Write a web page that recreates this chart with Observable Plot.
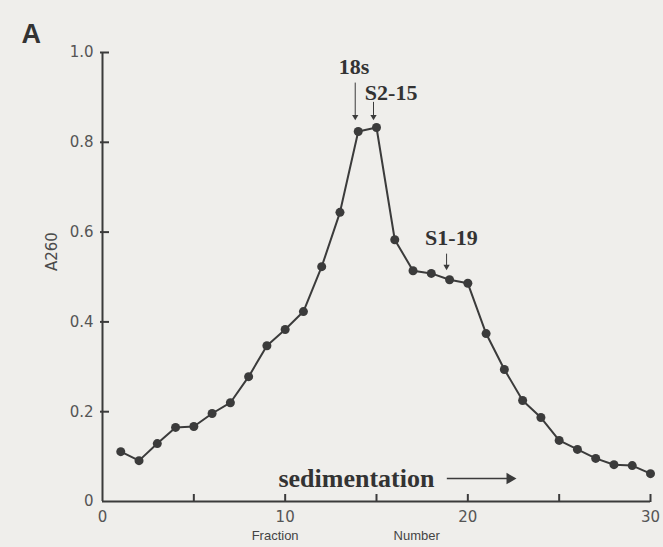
<!DOCTYPE html>
<html><head><meta charset="utf-8">
<script src="https://cdn.jsdelivr.net/npm/d3@7"></script>
<script src="https://cdn.jsdelivr.net/npm/@observablehq/plot@0.6"></script>
<style>
html,body{margin:0;padding:0;background:#efeeeb;}
#chart{width:663px;height:547px;}
</style></head><body><div id="chart"></div>
<script>
// ---- data ----
const fraction = [1,2,3,4,5,6,7,8,9,10,11,12,13,14,15,16,17,18,19,20,21,22,23,24,25,26,27,28,29,30];
const a260 = [0.111,0.091,0.129,0.165,0.167,0.196,0.220,0.278,0.347,0.383,0.423,0.523,0.644,0.824,0.833,0.583,0.514,0.508,0.494,0.486,0.374,0.294,0.225,0.187,0.136,0.116,0.096,0.082,0.080,0.062];
const xTickLabels = [0,10,20,30];
const xTickMarks = [5,10,15,20,25,30];
const yTicks = [0,0.2,0.4,0.6,0.8,1.0];
const yTickLabels = ["0","0.2","0.4","0.6","0.8","1.0"];
// annotations
const peakLabels = ["18s","S2-15","S1-19"];
const peakLabelX = [13.77,15.8,19.1];
const peakLabelY = [0.967,0.911,0.586];
const peakArrowX = [14,15,19];
const peakArrowTop = [0.933,0.89,0.552];
const peakArrowBottom = [0.857,0.857,0.523];
const sedText = "sedimentation";
const sedTextX = 13.9, sedY = 0.051;
const sedArrowX1 = 18.85, sedArrowX2 = 22.3;
const axisWords = ["Fraction","Number"];
const axisWordsX = [9.45,17.2];

const points = fraction.map((f,i)=>({f, a: a260[i]}));
const peaks = peakLabels.map((t,i)=>({t, lx: peakLabelX[i], ly: peakLabelY[i], ax: peakArrowX[i], y1: peakArrowTop[i], y2: peakArrowBottom[i]}));
const ink = "#3b3b3b";
const W = 663, H = 547, ML = 102, MR = 13, MT = 52, MB = 46, TICK = 7;
const tickFont = "'DejaVu Sans', sans-serif";

const chart = Plot.plot({
  width: W, height: H,
  marginLeft: ML, marginRight: MR, marginTop: MT, marginBottom: MB,
  style: {background: "transparent", color: "#444", fontFamily: tickFont, fontSize: "15px"},
  x: {domain: [0,30]},
  y: {domain: [0,1]},
  marks: [
    Plot.ruleY([0], {stroke: ink, strokeWidth: 2}),
    Plot.ruleX([0], {stroke: ink, strokeWidth: 2}),
    Plot.axisY({ticks: yTicks, tickSize: 0, tickPadding: 9, tickFormat: d=>yTickLabels[yTicks.indexOf(d)], fill: "#555", label: null}),
    Plot.tickY(yTicks.slice(1), {y: d=>d, insetRight: (W-ML-MR) - TICK, insetLeft: -2, stroke: ink, strokeWidth: 2}),
    Plot.axisX({ticks: xTickLabels, tickSize: 0, tickPadding: 10, fill: "#555", label: null}),
    Plot.tickX(xTickMarks, {x: d=>d, insetTop: (H-MT-MB) - TICK, insetBottom: -1, stroke: ink, strokeWidth: 2}),
    Plot.line(points, {x: "f", y: "a", stroke: ink, strokeWidth: 2}),
    Plot.dot(points, {x: "f", y: "a", r: 4.5, fill: ink, stroke: null}),
    // peak annotations
    Plot.text(peaks, {x: "lx", y: "ly", text: "t", fontFamily: "'Liberation Serif', serif", fontWeight: "bold", fontSize: 22, fill: "#333"}),
    Plot.link(peaks, {x1: "ax", x2: "ax", y1: "y1", y2: "y2", dx: -3, stroke: ink, strokeWidth: 1}),
    Plot.dot(peaks, {x: "ax", y: "y2", dx: -3, symbol: "triangle2", rotate: 180, r: 3, fill: ink, stroke: null}),
    // sedimentation arrow
    Plot.text([sedText], {x: sedTextX, y: sedY, text: d=>d, fontFamily: "'Liberation Serif', serif", fontWeight: "bold", fontSize: 26, fill: "#333"}),
    Plot.link([0], {x1: sedArrowX1, x2: sedArrowX2, y1: sedY, y2: sedY, stroke: ink, strokeWidth: 1.5}),
    Plot.dot([0], {x: sedArrowX2, y: sedY, symbol: "triangle2", rotate: 90, r: 5.5, fill: ink, stroke: null}),
    // axis words
    Plot.text(axisWords, {x: (d,i)=>axisWordsX[i], frameAnchor: "bottom", dy: 38, text: d=>d, fontFamily: "'Liberation Sans', sans-serif", fontSize: 13, fill: "#444"}),
    // y label
    Plot.text(["A260"], {frameAnchor: "left", dx: -50, dy: -6, rotate: -90, text: d=>d, fontSize: 15, fill: "#4a4a4a"}),
    // panel letter
    Plot.text(["A"], {frameAnchor: "top-left", dx: -81, dy: -29, text: d=>d, fontFamily: "'Liberation Sans', sans-serif", fontSize: 27, fontWeight: "bold", fill: "#333"})
  ]
});
document.getElementById("chart").appendChild(chart);
</script></body></html>
